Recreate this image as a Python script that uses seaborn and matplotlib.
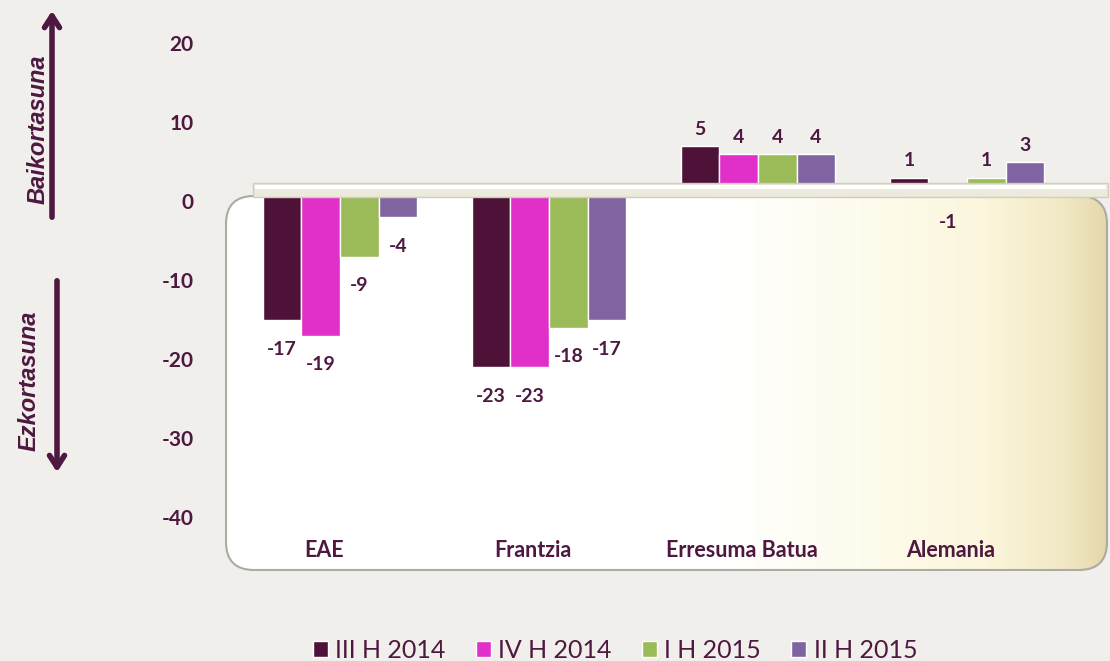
import matplotlib
matplotlib.use('Agg')
import matplotlib.pyplot as plt
import seaborn as sns
import pandas as pd
import numpy as np
from matplotlib.patches import FancyBboxPatch, Rectangle
from matplotlib.colors import LinearSegmentedColormap
from matplotlib import transforms

# chart data
countries = ['EAE', 'Frantzia', 'Erresuma Batua', 'Alemania']
periods = ['III H 2014', 'IV H 2014', 'I H 2015', 'II H 2015']
iii_h_2014 = [-17, -23, 5, 1]
iv_h_2014 = [-19, -23, 4, -1]
i_h_2015 = [-9, -18, 4, 1]
ii_h_2015 = [-4, -17, 4, 3]
y_ticks = [-40, -30, -20, -10, 0, 10, 20]

colors = ['#4E1239', '#E030C9', '#9BBB59', '#8064A2']
text_color = '#4E1840'
bg_color = '#F0EFEB'

rows = []
for period, values in zip(periods, [iii_h_2014, iv_h_2014, i_h_2015, ii_h_2015]):
    for country, v in zip(countries, values):
        rows.append({'country': country, 'period': period, 'value': v})
df = pd.DataFrame(rows)

sns.set_theme(style='white')
plt.rcParams['font.family'] = ['Lato', 'DejaVu Sans']
plt.rcParams['axes.unicode_minus'] = False

W, H = 1110, 661
fig = plt.figure(figsize=(W / 100, H / 100), dpi=100, facecolor=bg_color)


def px(x0, y0, x1, y1):
    # pixel box (top-left origin) -> figure fraction rect
    return [x0 / W, 1 - y1 / H, (x1 - x0) / W, (y1 - y0) / H]


# rounded panel with white -> cream gradient
bg = fig.add_axes(px(225, 195, 1108, 571), zorder=-1)
pw, ph = 883, 376
grad = LinearSegmentedColormap.from_list(
    'panel', [(0, 'white'), (0.55, 'white'), (0.72, '#FEFCEE'), (0.86, '#FBF6DC'),
              (0.95, '#F2E9C6'), (1, '#E4D7A9')])
img = bg.imshow(np.linspace(0, 1, 256)[None, :], cmap=grad, aspect='auto', extent=(0, pw, 0, ph))
panel = FancyBboxPatch((1, 1), pw - 2, ph - 2, boxstyle='round,pad=0,rounding_size=28',
                       transform=bg.transData, facecolor='none', edgecolor='#ABABA4', lw=1.5)
bg.add_patch(panel)
img.set_clip_path(panel)
bg.set_xlim(0, pw)
bg.set_ylim(0, ph)
bg.axis('off')

# main bars
ax = fig.add_axes(px(235.5, 12, 1071.5, 533.4))
ax.set_facecolor('none')
sns.barplot(data=df, x='country', y='value', hue='period', palette=colors, width=0.74,
            saturation=1, errorbar=None, ax=ax, zorder=2)

for container in ax.containers:
    for bar in container:
        v = bar.get_height()
        x = bar.get_x() + bar.get_width() / 2
        off = 17 if v > 0 else -29
        ax.annotate(f'{v:.0f}', (x, v), xytext=(0, off), textcoords='offset pixels',
                    ha='center', va='center', fontsize=14, fontweight='bold', color=text_color)

ax.set_xlim(-0.5, 3.5)
ax.set_ylim(-44, 22)
ax.set_yticks(y_ticks)
ax.set_xlabel('')
ax.set_ylabel('')
for s in ax.spines.values():
    s.set_visible(False)
ax.tick_params(axis='y', length=0, pad=30, labelsize=15, labelcolor=text_color)
ax.tick_params(axis='x', length=0, pad=5, labelsize=15.5, labelcolor=text_color)
for lbl in ax.get_yticklabels():
    lbl.set_fontweight('bold')
    lbl.set_transform(lbl.get_transform() + transforms.ScaledTranslation(0, -0.15, fig.dpi_scale_trans))
for lbl in ax.get_xticklabels():
    lbl.set_fontweight('bold')
    lbl.set_transform(lbl.get_transform() + transforms.ScaledTranslation(-0.16, 0, fig.dpi_scale_trans))

handles, labels = ax.get_legend_handles_labels()
ax.legend_.remove()
fig.legend(handles, labels, loc='center', bbox_to_anchor=(615 / W, 1 - 650 / H), ncol=4,
           frameon=False, fontsize=18, handlelength=0.6, handleheight=0.6,
           handletextpad=0.3, columnspacing=1.2, labelcolor=text_color)

# the "floor" shelf of the 3d chart
shelf = FancyBboxPatch((253 / W, 1 - 197 / H), 855 / W, 14 / H, boxstyle='square,pad=0',
                       transform=fig.transFigure, facecolor='#ECE9DD', edgecolor='#D2CEBE',
                       lw=1, zorder=3)
fig.add_artist(shelf)
fig.add_artist(Rectangle((255 / W, 1 - 189 / H), 851 / W, 4 / H, transform=fig.transFigure,
                         facecolor='white', edgecolor='none', zorder=4))

# side arrows
arrow = dict(arrowstyle='->,head_length=0.7,head_width=0.45', lw=4, color=text_color)
ax.annotate('', xy=(52, H - 8), xytext=(52, H - 220), xycoords='figure pixels', arrowprops=arrow)
ax.annotate('', xy=(57, H - 475), xytext=(57, H - 278), xycoords='figure pixels', arrowprops=arrow)
fig.text(38 / W, 1 - 129 / H, 'Baikortasuna', rotation=90, ha='center', va='center',
         fontsize=17, fontweight='bold', fontstyle='italic', color=text_color,
         family='Liberation Sans')
fig.text(29 / W, 1 - 381 / H, 'Ezkortasuna', rotation=90, ha='center', va='center',
         fontsize=17, fontweight='bold', fontstyle='italic', color=text_color,
         family='Liberation Sans')

fig.savefig('out.png', dpi=100, facecolor=bg_color)
